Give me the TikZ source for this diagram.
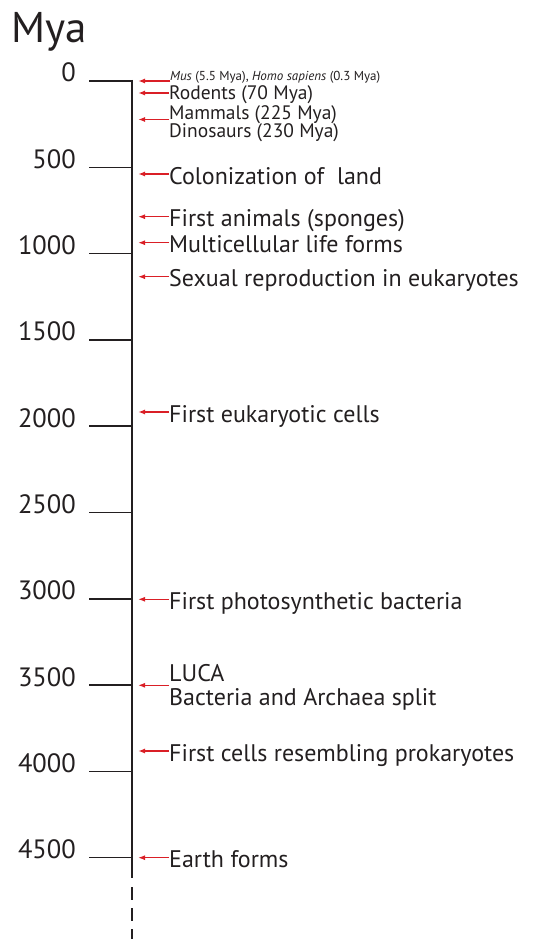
\documentclass[tikz,border=0pt]{standalone}
\usepackage{fontspec}
\setmainfont{PT Sans}
\usepackage{xcolor}
\usetikzlibrary{arrows.meta,positioning}
\definecolor{Ink}{HTML}{231F20}
\definecolor{EvRed}{HTML}{DA1F26}

\begin{document}
\begin{tikzpicture}[x=1pt, y=-1pt,
  axis/.style={draw=Ink, line width=1.8pt},
  tick/.style={draw=Ink, line width=1.5pt},
  ylab/.style={anchor=base east, inner sep=0pt, text=Ink, font=\fontsize{26.5}{30}\selectfont},
  evt/.style={anchor=west, inner sep=0pt, text=Ink, font=\fontsize{24}{25}\selectfont, text height=20pt, text depth=0pt},
  evsmall/.style={inner sep=0pt, text=Ink, font=\fontsize{19.5}{20}\selectfont, text height=14pt, text depth=0pt},
  arrow/.style={-{Latex[length=7pt,width=5pt]}, line width=1.4pt, draw=EvRed}
]
\useasboundingbox (0,0) rectangle (548,939);

% title and time axis
\node[anchor=base west, inner sep=0pt, text=Ink, font=\fontsize{43}{46}\selectfont] (mya) at (11,43) {Mya};
\draw[axis] (132,80) -- (132,878);
\draw[axis, dash pattern=on 13pt off 8pt] (132,887) -- (132,939);

\draw[tick] (89,81) -- (132,81);
\draw[tick] (89,167.3) -- (132,167.3);
\draw[tick] (89,253.6) -- (132,253.6);
\draw[tick] (89,339.9) -- (132,339.9);
\draw[tick] (89,426.2) -- (132,426.2);
\draw[tick] (89,512.5) -- (132,512.5);
\draw[tick] (89,598.8) -- (132,598.8);
\draw[tick] (89,685.1) -- (132,685.1);
\draw[tick] (89,771.4) -- (132,771.4);
\draw[tick] (89,857.7) -- (132,857.7);

\node[ylab] (y0) at (76,82) {0};
\node[ylab] (y500) at (76,168.3) {500};
\node[ylab] (y1000) at (76,254.6) {1000};
\node[ylab] (y1500) at (76,340.9) {1500};
\node[ylab] (y2000) at (76,427.2) {2000};
\node[ylab] (y2500) at (76,513.5) {2500};
\node[ylab] (y3000) at (76,599.8) {3000};
\node[ylab] (y3500) at (76,686.1) {3500};
\node[ylab] (y4000) at (76,772.4) {4000};
\node[ylab] (y4500) at (76,858.7) {4500};

% events
\node[anchor=base west, inner sep=0pt, text=Ink, font=\fontsize{13}{14}\selectfont] (mus) at (170,81) {\textit{Mus} (5.5 Mya), \textit{Homo sapiens} (0.3 Mya)};
\node[evsmall, anchor=west] (rod) at (169,93) {Rodents (70 Mya)};
\node[evsmall, anchor=south west] (mam) at (169,119.5) {Mammals (225 Mya)};
\node[evsmall, anchor=south west] (dino) at (169,137.5) {Dinosaurs (230 Mya)};
\node[evt] (land) at (169,174) {Colonization of~~land};
\node[evt] (anim) at (169,216.7) {First animals (sponges)};
\node[evt] (multi) at (169,242.7) {Multicellular life forms};
\node[evt] (sex) at (169,276.7) {Sexual reproduction in eukaryotes};
\node[evt] (euk) at (169,412) {First eukaryotic cells};
\node[evt] (photo) at (169,599.3) {First photosynthetic bacteria};
\node[evt, anchor=south west] (luca) at (169,682) {LUCA};
\node[evt, anchor=south west] (split) at (169,706) {Bacteria and Archaea split};
\node[evt] (prok) at (169,751) {First cells resembling prokaryotes};
\node[evt] (earth) at (169,857.7) {Earth forms};

\coordinate (a-mus) at (138,81);
\coordinate (a-rod) at (138,93);
\coordinate (a-mam) at (138,119.5);
\coordinate (a-land) at (138,174);
\coordinate (a-anim) at (138,216.7);
\coordinate (a-multi) at (138,242.7);
\coordinate (a-sex) at (138,276.7);
\coordinate (a-euk) at (138,412);
\coordinate (a-photo) at (138,599.3);
\coordinate (a-luca) at (138,685.3);
\coordinate (a-prok) at (138,751);
\coordinate (a-earth) at (138,857.7);

\draw[arrow] (mus.base west) -- (a-mus);
\draw[arrow] (rod) -- (a-rod);
\draw[arrow] (mam.south west) -- (a-mam);
\draw[arrow] (land) -- (a-land);
\draw[arrow] (anim) -- (a-anim);
\draw[arrow] (multi) -- (a-multi);
\draw[arrow] (sex) -- (a-sex);
\draw[arrow] (euk) -- (a-euk);
\draw[arrow] (photo) -- (a-photo);
\draw[arrow] (luca.south west |- a-luca) -- (a-luca);
\draw[arrow] (prok) -- (a-prok);
\draw[arrow] (earth) -- (a-earth);
\end{tikzpicture}
\end{document}
